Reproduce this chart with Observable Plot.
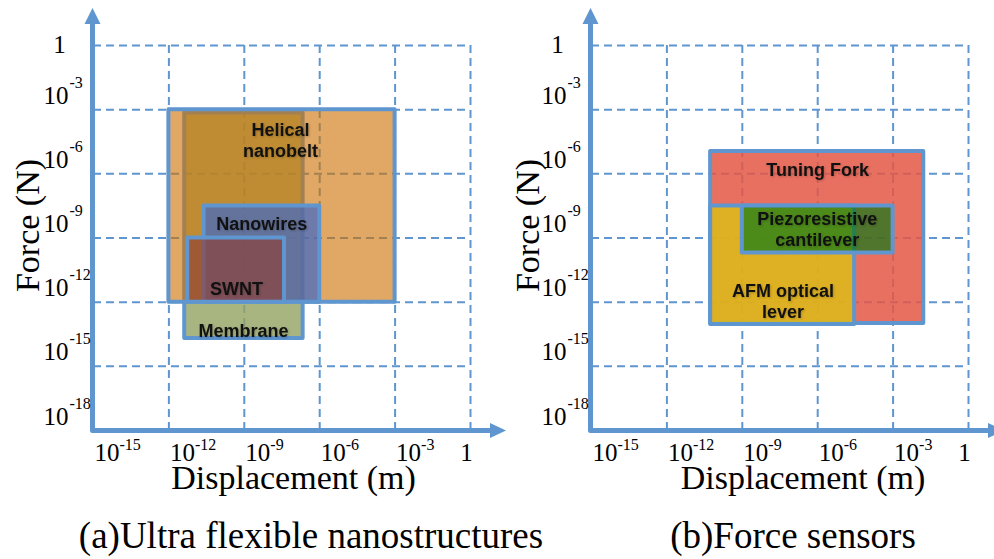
<!DOCTYPE html>
<html>
<head>
<meta charset="utf-8">
<script src="https://cdn.jsdelivr.net/npm/d3@7"></script>
<script src="https://cdn.jsdelivr.net/npm/@observablehq/plot@0.6"></script>
<style>
  html, body { margin: 0; padding: 0; background: #fff; }
  #root { position: relative; width: 994px; height: 559px; overflow: hidden; background: #fff; }
  #root svg { position: absolute; top: 0; overflow: visible; background: transparent; }
  g[font-weight="bold"] text { filter: drop-shadow(1px 1px 1px rgba(0,0,0,0.22)); }
</style>
</head>
<body>
<div id="root"></div>
<script>
// ---- Axis / grid data (exponents of ten) ----
const xGridExp = [-12, -9, -6, -3, 0];
const yGridExp = [0, -3, -6, -9, -12, -15];
const xTickExp = [-15, -12, -9, -6, -3, 0];
const xTickBase = ["10", "10", "10", "10", "10", "1"];
const xTickSup = ["-15", "-12", "-9", "-6", "-3", ""];
const yTickExp = [0, -3, -6, -9, -12, -15, -18];
const yTickBase = ["1", "10", "10", "10", "10", "10", "10"];
const yTickSup = ["", "-3", "-6", "-9", "-12", "-15", "-18"];

// ---- Panel (a): Ultra flexible nanostructures (log10 m, log10 N) ----
const aNames = ["Membrane", "Helical\nnanobelt", "Nanowires", "SWNT"];
const aDispMin = [-11.37, -12, -10.6, -11.25];
const aDispMax = [-6.66, -3, -6, -7.4];
const aForceMin = [-13.7, -12, -12, -12];
const aForceMax = [-3.15, -3, -7.5, -9];
const aLabelDisp = [-9.03, -7.56, -8.31, -9.31];
const aLabelForce = [-13.32, -4.39, -8.3, -11.34];
const aColors = ["#92A260", "#CD7305", "#3D68C8", "#8F3E36"];
const aOpacity = [0.8, 0.62, 0.7, 0.65];

// ---- Panel (b): Force sensors ----
const bNames = ["Tuning Fork", "AFM optical\nlever", "Piezoresistive\ncantilever"];
const bDispMin = [-10.26, -10.26, -9];
const bDispMax = [-1.78, -4.53, -3];
const bForceMin = [-13.0, -13.04, -9.7];
const bForceMax = [-4.95, -7.5, -7.5];
const bLabelDisp = [-6.0, -7.38, -6.02];
const bLabelForce = [-5.76, -11.92, -8.55];
const bColors = ["#E45744", "#DCBB19", "#077815"];
const bOpacity = [0.85, 0.85, 0.68];

const BLUE = "#5F96CF";
const SERIF = "Liberation Serif, Times New Roman, serif";
const SANS = "Liberation Sans, Arial, sans-serif";

function axisArrows(index, scales) {
  const {x, y} = scales;
  const x0 = x(1e-15) - 0.5, y0 = y(1e-18) + 0.5, yTop = y(1), xEnd = x(1);
  const g = d3.create("svg:g");
  g.append("path").attr("fill", "none").attr("stroke", BLUE).attr("stroke-width", 5)
    .attr("stroke-linejoin", "round")
    .attr("d", `M${x0},${yTop - 22}V${y0}H${xEnd + 21}`);
  g.append("path").attr("fill", BLUE)
    .attr("d", `M${x0},${yTop - 37}L${x0 + 8},${yTop - 21}L${x0 - 8},${yTop - 21}Z`);
  g.append("path").attr("fill", BLUE)
    .attr("d", `M${xEnd + 36},${y0}L${xEnd + 20},${y0 - 7.5}L${xEnd + 20},${y0 + 7.5}Z`);
  return g.node();
}

function panel(cfg) {
  const boxes = cfg.names.map((n, i) => ({
    name: n,
    x1: 10 ** cfg.dMin[i], x2: 10 ** cfg.dMax[i],
    y1: 10 ** cfg.fMin[i], y2: 10 ** cfg.fMax[i],
    lx: 10 ** cfg.lx[i], ly: 10 ** cfg.ly[i],
    color: cfg.colors[i], op: cfg.opacity[i]
  }));
  const xTicks = xTickExp.map((e, i) => ({v: 10 ** e, base: xTickBase[i], sup: xTickSup[i]}));
  const yTicks = yTickExp.map((e, i) => ({v: 10 ** e, base: yTickBase[i], sup: yTickSup[i]}));
  const xT10 = xTicks.filter(d => d.base === "10"), xT1 = xTicks.filter(d => d.base === "1");
  const yT10 = yTicks.filter(d => d.base === "10"), yT1 = yTicks.filter(d => d.base === "1");

  return Plot.plot({
    width: cfg.width, height: 559,
    marginLeft: 93, marginRight: cfg.width - 470, marginTop: 45, marginBottom: 129,
    style: {overflow: "visible", background: "transparent"},
    x: {type: "log", domain: [1e-15, 1], axis: null},
    y: {type: "log", domain: [1e-18, 1], axis: null},
    marks: [
      Plot.ruleX(xGridExp.map(e => 10 ** e), {y1: 1e-18, y2: 1, stroke: BLUE, strokeWidth: 2, strokeDasharray: "8,5"}),
      Plot.ruleY(yGridExp.map(e => 10 ** e), {x1: 1e-15, x2: 1, stroke: BLUE, strokeWidth: 2, strokeDasharray: "8,5"}),
      ...boxes.map(b => Plot.rect([b], {
        x1: "x1", x2: "x2", y1: "y1", y2: "y2",
        fill: b.color, fillOpacity: b.op, stroke: BLUE, strokeWidth: 4, strokeLinejoin: "round"
      })),
      axisArrows,
      Plot.text(boxes, {x: "lx", y: "ly", text: "name", fontFamily: SANS, fontWeight: "bold",
        fontSize: 18, lineHeight: 1.2, fill: "#111"}),
      // x tick labels
      Plot.text(xT10, {x: "v", y: 1e-18, text: "base", textAnchor: "start", dx: 1, dy: 22,
        fontFamily: SERIF, fontSize: 25, fill: "#000"}),
      Plot.text(xT10, {x: "v", y: 1e-18, text: "sup", textAnchor: "start", dx: 26, dy: 14,
        fontFamily: SERIF, fontSize: 16, fill: "#000"}),
      Plot.text(xT1, {x: "v", y: 1e-18, text: "base", dx: -4, dy: 22,
        fontFamily: SERIF, fontSize: 25, fill: "#000"}),
      // y tick labels
      Plot.text(yT10, {x: 1e-15, y: "v", text: "base", textAnchor: "end", dx: -25, dy: -14,
        fontFamily: SERIF, fontSize: 25, fill: "#000"}),
      Plot.text(yT10, {x: 1e-15, y: "v", text: "sup", textAnchor: "start", dx: -24, dy: -27,
        fontFamily: SERIF, fontSize: 16, fill: "#000"}),
      Plot.text(yT1, {x: 1e-15, y: "v", text: "base", dx: -34, dy: -1,
        fontFamily: SERIF, fontSize: 25, fill: "#000"}),
      // axis titles and caption
      Plot.text(["Displacement (m)"], {frameAnchor: "bottom", lineAnchor: "middle", textAnchor: "middle",
        text: d => d, dx: cfg.xTitleDx, dy: 48, fontFamily: SERIF, fontSize: 34, fill: "#000"}),
      Plot.text(["Force (N)"], {frameAnchor: "left", lineAnchor: "middle", textAnchor: "middle",
        text: d => d, rotate: -90, dx: cfg.yTitleDx, dy: -12.5, fontFamily: SERIF, fontSize: 34, fill: "#000"}),
      Plot.text([cfg.caption], {frameAnchor: "bottom", lineAnchor: "middle", textAnchor: "middle",
        text: d => d, dx: cfg.capDx, dy: 106, fontFamily: SERIF, fontSize: 37, fill: "#000"})
    ]
  });
}

const root = document.getElementById("root");
const left = panel({
  width: 498, names: aNames, dMin: aDispMin, dMax: aDispMax, fMin: aForceMin, fMax: aForceMax,
  lx: aLabelDisp, ly: aLabelForce, colors: aColors, opacity: aOpacity,
  caption: "(a)Ultra flexible nanostructures", xTitleDx: 11.5, yTitleDx: -65, capDx: 29
});
left.style.left = "0px";
root.appendChild(left);
const right = panel({
  width: 496, names: bNames, dMin: bDispMin, dMax: bDispMax, fMin: bForceMin, fMax: bForceMax,
  lx: bLabelDisp, ly: bLabelForce, colors: bColors, opacity: bOpacity,
  caption: "(b)Force sensors", xTitleDx: 23, yTitleDx: -63.5, capDx: 13
});
right.style.left = "498px";
root.appendChild(right);
</script>
</body>
</html>
